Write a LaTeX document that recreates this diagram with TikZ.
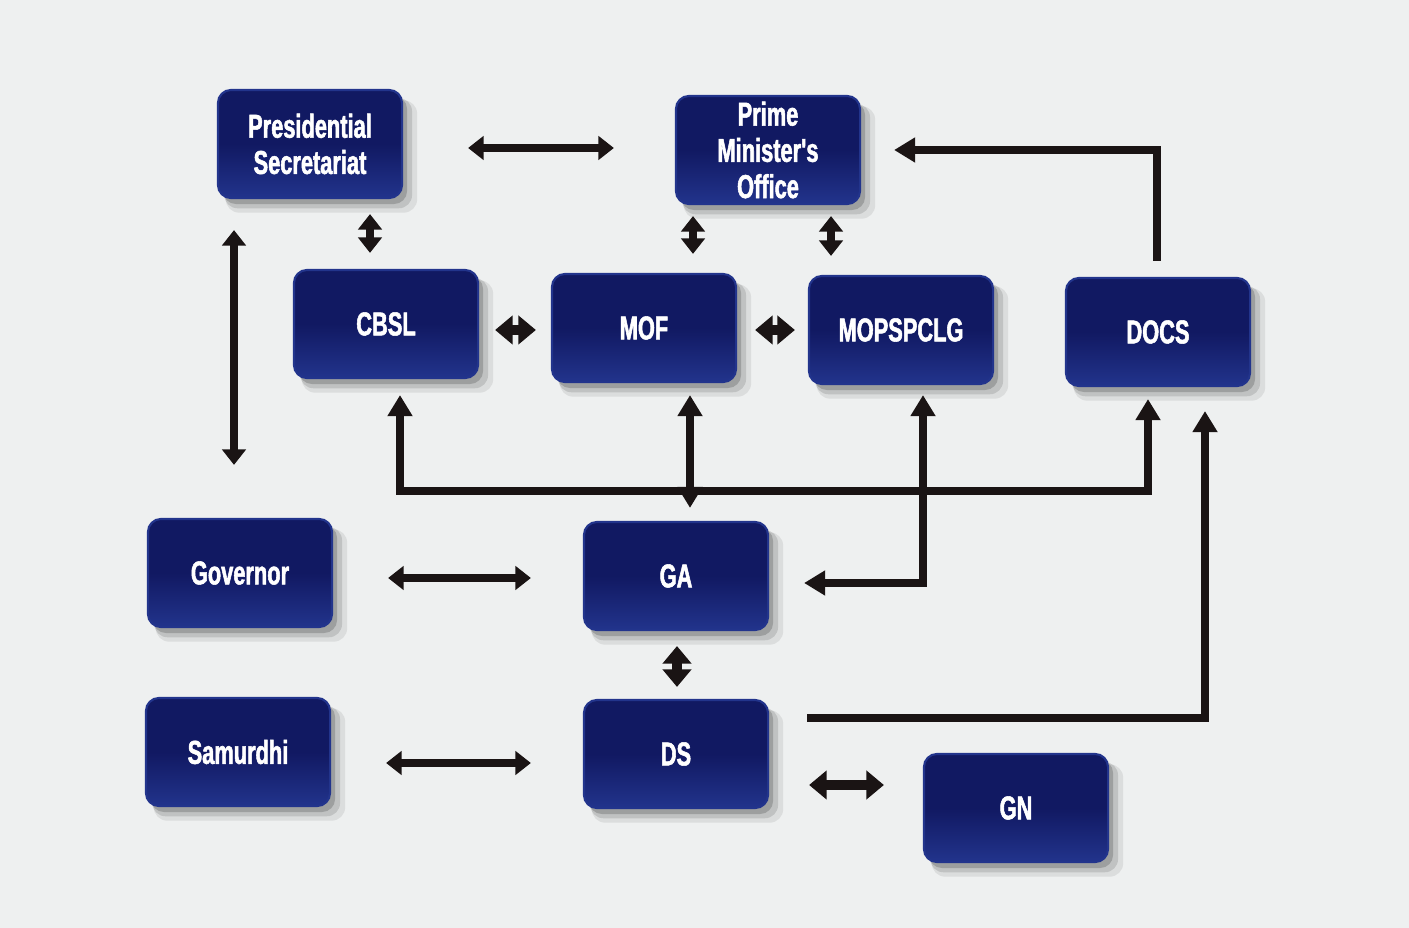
\documentclass[tikz,border=0pt]{standalone}
\usepackage{fontspec}
\newfontfamily\boxfont{Liberation Sans Bold}[FakeStretch=0.66, FakeBold=1.6]
\usetikzlibrary{arrows.meta,shadows,calc}
\definecolor{bg}{HTML}{EEF0F0}
\definecolor{navy}{HTML}{111962}
\definecolor{navyedge}{HTML}{22348C}
\definecolor{ink}{HTML}{1A1414}
\begin{document}
\begin{tikzpicture}[x=0.01cm,y=-0.01cm,
  box/.style={rectangle, rounded corners=0.13cm, minimum width=1.84cm, minimum height=1.08cm,
    inner sep=0pt, top color=navy, bottom color=navyedge, middle color=navy,
    draw=navyedge, line width=0.6pt, text=white,
    font=\boxfont\fontsize{9.4}{10.3}\selectfont, align=center,
    drop shadow={shadow xshift=0.11cm, shadow yshift=-0.12cm, shadow scale=1.04, fill=black, opacity=0.08},
    drop shadow={shadow xshift=0.08cm, shadow yshift=-0.09cm, shadow scale=1.02, fill=black, opacity=0.12},
    drop shadow={shadow xshift=0.05cm, shadow yshift=-0.06cm, fill=black, opacity=0.18}},
  thin/.style={draw=ink, line width=2pt,
    {Triangle[length=4.4pt,width=6.6pt]}-{Triangle[length=4.4pt,width=6.6pt]}},
  fat/.style={draw=ink, line width=3pt,
    {Triangle[length=5pt,width=8pt]}-{Triangle[length=5pt,width=8pt]}},
  bus/.style={draw=ink, line width=2.1pt, line join=miter,
    -{Triangle[length=6pt,width=6.8pt]}},
  busd/.style={draw=ink, line width=2.1pt, line join=miter,
    {Triangle[length=6pt,width=6.8pt]}-{Triangle[length=6pt,width=6.8pt]}}
]
\useasboundingbox (0,0) rectangle (1409,928);
\fill[bg] (0,0) rectangle (1409,928);

\node[box] (ps)   at (310,144)  {Presidential\\Secretariat};
\node[box] (pmo)  at (768,150)  {Prime\\Minister's\\Office};
\node[box] (cbsl) at (386,324)  {CBSL};
\node[box] (mof)  at (644,328)  {MOF};
\node[box] (mops) at (901,330)  {MOPSPCLG};
\node[box] (docs) at (1158,332) {DOCS};
\node[box] (gov)  at (240,573)  {Governor};
\node[box] (ga)   at (676,576)  {GA};
\node[box] (sam)  at (238,752)  {Samurdhi};
\node[box] (ds)   at (676,754)  {DS};
\node[box] (gn)   at (1016,808) {GN};

% top row links
\draw[thin] ($(ps.east)+(65,4)$) -- ($(pmo.west)+(-61,-2)$);
\draw[thin] ($(ps.south)+(60,15)$) -- ($(cbsl.north)+(-16,-16)$);
\draw[thin] ($(ps.south)+(-76,31)$) -- ($(gov.north)+(-6,-53)$);
\draw[thin] ($(pmo.south)+(-75,11)$) -- ($(mof.north)+(49,-19)$);
\draw[thin] ($(pmo.south)+(63,11)$) -- ($(mops.north)+(-70,-19)$);
\draw[bus] ($(docs.north)+(-1,-16)$) |- ($(pmo.east)+(33,0)$);

% middle row links
\draw[fat] ($(cbsl.east)+(16,6)$) -- ($(mof.west)+(-15,2)$);
\draw[fat] ($(mof.east)+(18,2)$) -- ($(mops.west)+(-13,0)$);

% bus
\draw[busd] ($(cbsl.south)+(14,16)$) |- ($(docs.south)+(-10,104)$) -- ($(docs.south)+(-10,12)$);
\draw[busd] ($(mof.south)+(46,12)$) -- ($(ga.north)+(14,-13)$);
\draw[busd] ($(mops.south)+(22,10)$) |- ($(ga.east)+(35,7)$);

% lower links
\draw[thin] ($(gov.east)+(55,5)$) -- ($(ga.west)+(-52,2)$);
\draw[fat] ($(ga.south)+(1,15)$) -- ($(ds.north)+(1,-12)$);
\draw[bus] ($(ds.east)+(38,-36)$) -| ($(docs.south)+(47,24)$);
\draw[thin] ($(sam.east)+(55,11)$) -- ($(ds.west)+(-52,9)$);
\draw[fat] ($(ds.east)+(40,31)$) -- ($(gn.west)+(-39,-23)$);
\end{tikzpicture}
\end{document}
